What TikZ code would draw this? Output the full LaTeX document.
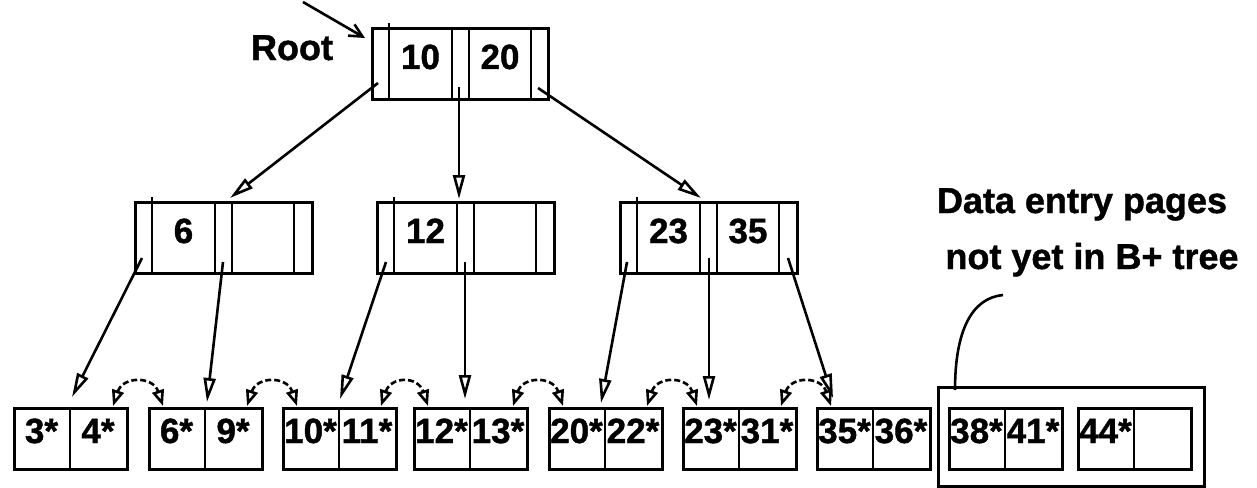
\documentclass[tikz,border=0pt]{standalone}
\usepackage{fontspec}
\setmainfont{Liberation Sans}[BoldFeatures={FakeBold=1.2}]
\usetikzlibrary{arrows.meta,calc}
\tikzset{
  boxline/.style={line width=2.6pt},
  pg/.style={draw, boxline, rectangle, inner sep=0pt, anchor=north west},
  num/.style={font=\fontsize{35}{40}\selectfont\bfseries, inner sep=0pt, anchor=base},
  lbl/.style={font=\fontsize{36}{42}\selectfont\bfseries, inner sep=0pt, anchor=base},
  ptr/.style={line width=2.6pt, -{Triangle[open,length=24pt,width=12pt]}},
  sib/.style={line width=2.6pt, dash pattern=on 6pt off 3pt, {Triangle[open,length=16pt,width=12pt]}-{Triangle[open,length=16pt,width=12pt]}},
  rootarrow/.style={line width=2.6pt, -{Straight Barb[length=13pt,width=13pt]}},
}
\newcommand\innerpage[6]{% name x y width key1 key2
  \node[pg, minimum width=#4pt, minimum height=71pt] (#1) at (#2,#3) {};
  \draw[boxline] ($(#1.north west)+(18,-4)$) -- ($(#1.south west)+(18,0)$);
  \draw[boxline] ($(#1.north west)+(81,0)$) -- ($(#1.south west)+(81,0)$);
  \draw[boxline] ($(#1.north west)+(98,0)$) -- ($(#1.south west)+(98,0)$);
  \draw[boxline] ($(#1.north west)+(160,0)$) -- ($(#1.south west)+(160,0)$);
  \node[num] (#1k1) at ($(#1.north west)+(49.5,42)$) {#5};
  \node[num] (#1k2) at ($(#1.north west)+(129,42)$) {#6};
}
\newcommand\leafpage[4]{% name x key1 key2
  \node[pg, minimum width=113pt, minimum height=61pt] (#1) at (#2,407) {};
  \draw[boxline] ($(#1.north west)+(57,0)$) -- ($(#1.south west)+(57,0)$);
  \node[num] (#1a) at ($(#1.north west)+(28.5,36)$) {#3};
  \node[num] (#1b) at ($(#1.north west)+(85,36)$) {#4};
}
\begin{document}
\begin{tikzpicture}[x=1pt,y=-1pt]
\useasboundingbox (0,0) rectangle (1257,487);
% index pages
\innerpage{root}{371}{27}{176}{10}{20}
\innerpage{ma}{134}{201}{177}{6}{}
\innerpage{mb}{376}{201}{177}{12}{}
\innerpage{mc}{619}{201}{177}{23}{35}
% leaf pages
\leafpage{la}{13}{3*}{4*}
\leafpage{lb}{148}{6*}{9*}
\leafpage{lc}{282}{10*}{11*}
\leafpage{ld}{413}{12*}{13*}
\leafpage{le}{548}{20*}{22*}
\leafpage{lf}{682}{23*}{31*}
\leafpage{lg}{816}{35*}{36*}
\leafpage{lh}{948}{38*}{41*}
\leafpage{li}{1077}{44*}{}
% box of pages not yet in tree
\node[pg, minimum width=266pt, minimum height=99pt] (newbox) at (937,386) {};
% labels
\node[lbl] (rootlbl) at (292,60) {Root};
\node[lbl] (dlbl1) at (1082,213) {Data entry pages};
\node[lbl] (dlbl2) at (1092,269) {not yet in B+ tree};
% root pointer
\coordinate (rs) at (303,2);
\coordinate (re) at (365,38);
\draw[rootarrow] (rs) -- (re);
% pointers root -> middle
\coordinate (p1) at (378,83);  \coordinate (q1) at (230,198);
\coordinate (p2) at (459,87);  \coordinate (q2) at (459,199);
\coordinate (p3) at (538,88);  \coordinate (q3) at (701,198);
\draw[ptr] (p1) -- (q1);
\draw[ptr] (p2) -- (q2);
\draw[ptr] (p3) -- (q3);
% pointers middle -> leaves
\coordinate (a1) at (142,258); \coordinate (b1) at (72,397);
\coordinate (a2) at (223,262); \coordinate (b2) at (207,402);
\coordinate (a3) at (386,262); \coordinate (b3) at (340,399);
\coordinate (a4) at (465,262); \coordinate (b4) at (465,399);
\coordinate (a5) at (627,262); \coordinate (b5) at (601,403);
\coordinate (a6) at (709,258); \coordinate (b6) at (709,400);
\coordinate (a7) at (788,258); \coordinate (b7) at (833,398);
\foreach \i in {1,...,7} { \draw[ptr] (a\i) -- (b\i); }
% sibling links
\foreach \i/\xa/\xb in {1/113/163, 2/247/297, 3/381/428, 4/513/563, 5/647/697, 6/781/831} {
  \coordinate (sa\i) at (\xa,406);
  \coordinate (sb\i) at (\xb,406);
  \draw[sib] (sa\i) .. controls +(10,-30) and +(-10,-30) .. (sb\i);
}
% callout curve
\coordinate (cb) at (955,390);
\coordinate (ct) at (1003,295);
\draw[boxline] (cb) .. controls (955,330) and (972,298) .. (ct);
\end{tikzpicture}
\end{document}
